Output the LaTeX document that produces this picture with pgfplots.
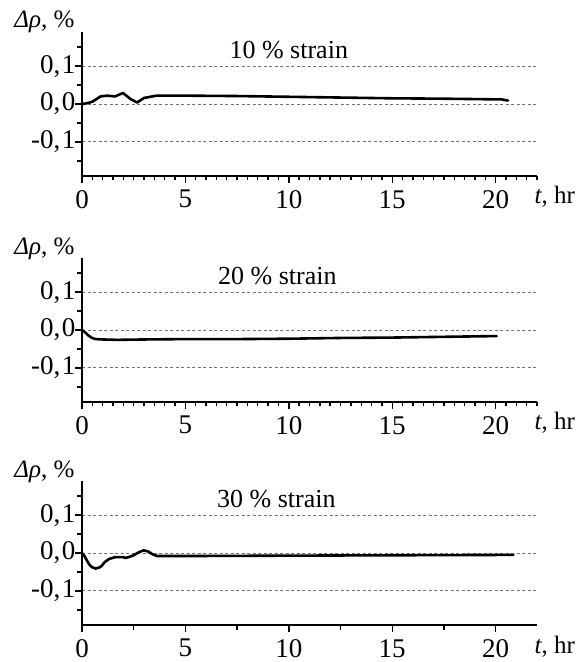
\documentclass[border=0pt]{standalone}
\usepackage{fontspec}
\setmainfont{Liberation Serif}
\usepackage{pgfplots}
\pgfplotsset{compat=1.18}
\pgfplotsset{
  panel/.style={
    scale only axis, width=455bp, height=144bp,
    xmin=0, xmax=22, ymin=-0.19, ymax=0.19,
    axis lines*=left,
    axis line style={line width=1.6bp, black},
    tick align=outside,
    major tick length=7bp, minor tick length=4.5bp,
    every tick/.style={black, line width=1.4bp},
    xtick={0,5,10,15,20},
    xticklabels={0,5,10,15,20},
    ytick={-0.1,0,0.1},
    yticklabels={{-0,\kern1.5bp1},{0,\kern1.5bp0},{0,\kern1.5bp1}},
    minor ytick={-0.15,-0.05,0.05,0.15},
    ymajorgrids,
    grid style={black!55, line width=0.8bp, dash pattern=on 3bp off 2.5bp},
    tick label style={font=\fontsize{27bp}{32bp}\selectfont},
    xticklabel style={inner sep=0.5bp, yshift=-6.5bp},
    yticklabel style={xshift=4bp},
    clip=false,
  },
  curve/.style={black, line width=2.6bp, line join=round, line cap=round},
}
\newcommand{\lab}{\fontsize{26bp}{30bp}\selectfont}
\newcommand{\ylab}{\node[anchor=base east, font=\fontsize{25bp}{28bp}\selectfont, xshift=-4bp, yshift=4bp] at (rel axis cs:0,1) {\textit{Δρ}, \%};}
\newcommand{\xlab}{\node[anchor=base west, inner sep=0.5bp, font=\fontsize{25bp}{28bp}\selectfont, xshift=-3bp, yshift=-28bp] at (rel axis cs:1,0) {\textit{t}, hr};}
\begin{document}
\begin{tikzpicture}
\useasboundingbox (0,0) rectangle (582bp,662bp);
% Panel 1: 10 % strain
\begin{axis}[panel, at={(82bp,486bp)}, anchor=south west, minor xtick={0,0.5,...,22}]
\addplot[curve] coordinates {
(0,0) (0.25,0.002) (0.5,0.006) (0.7,0.013) (0.9,0.020) (1.2,0.022) (1.6,0.020)
(1.98,0.029) (2.35,0.013) (2.67,0.004) (3.0,0.016) (3.3,0.019) (3.6,0.022)
(5,0.022) (7.5,0.021) (10,0.019) (12.5,0.017) (15,0.015) (17.5,0.014) (20.3,0.012) (20.6,0.009)
};
\node[anchor=base, font=\lab] at (axis cs:10,0.121) {10 \% strain};
\ylab
\xlab
\end{axis}
% Panel 2: 20 % strain
\begin{axis}[panel, at={(82bp,260bp)}, anchor=south west, minor xtick={0,0.5,...,22}]
\addplot[curve] coordinates {
(0,0) (0.15,-0.006) (0.3,-0.014) (0.45,-0.020) (0.65,-0.024) (1,-0.025) (1.7,-0.026)
(3,-0.025) (5,-0.024) (7.5,-0.024) (10,-0.023) (12.5,-0.021) (15,-0.020) (17.5,-0.018) (20.05,-0.016)
};
\node[anchor=base, font=\lab] at (axis cs:9.45,0.121) {20 \% strain};
\ylab
\xlab
\end{axis}
% Panel 3: 30 % strain
\begin{axis}[panel, at={(82bp,37bp)}, anchor=south west, minor xtick={2.5,7.5,12.5,17.5}]
\addplot[curve] coordinates {
(0,0) (0.12,-0.008) (0.23,-0.019) (0.35,-0.030) (0.47,-0.037) (0.66,-0.041) (0.85,-0.038)
(0.95,-0.034) (1.1,-0.024) (1.3,-0.016) (1.6,-0.011) (2.0,-0.011) (2.1,-0.013) (2.3,-0.010)
(2.5,-0.006) (2.75,0.002) (2.98,0.007) (3.2,0.004) (3.4,-0.003) (3.63,-0.008)
(5,-0.008) (10,-0.007) (15,-0.006) (20.86,-0.005)
};
\node[anchor=base, font=\lab] at (axis cs:9.4,0.121) {30 \% strain};
\ylab
\xlab
\end{axis}
\end{tikzpicture}
\end{document}
